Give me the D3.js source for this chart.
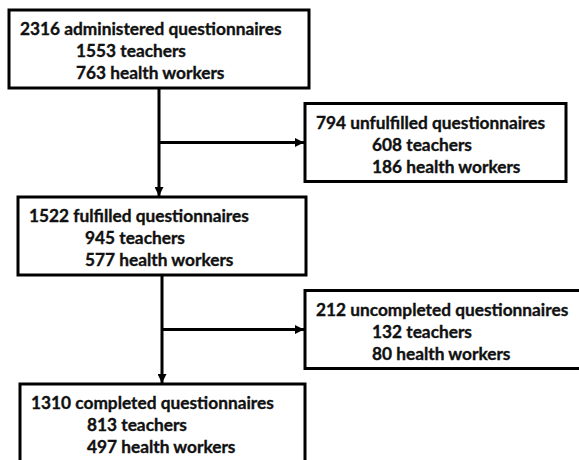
<!DOCTYPE html>
<html>
<head>
<meta charset="utf-8">
<script src="https://cdn.jsdelivr.net/npm/d3@7"></script>
<style>
    body { margin: 0; background: #fff; }
    .box { fill: #fff; stroke: #000; stroke-width: 3; }
    .link { fill: none; stroke: #000; stroke-width: 3; }
    .label { font-family: Lato, "Open Sans", sans-serif; font-weight: bold; font-size: 17.3px; fill: #111; stroke: #111; stroke-width: 0.35; }
</style>
</head>
<body>
<script>
//flowchart data
var titles = ["2316 administered questionnaires", "794 unfulfilled questionnaires",
    "1522 fulfilled questionnaires", "212 uncompleted questionnaires",
    "1310 completed questionnaires"];
var teachers = [1553, 608, 945, 132, 813];
var healthWorkers = [763, 186, 577, 80, 497];
var branch = ["main", "side", "main", "side", "main"]; //side = excluded questionnaires

window.onload = function(){
    var width = 579,
        height = 460;

    var svg = d3.select("body")
        .append("svg")
        .attr("width", width)
        .attr("height", height);

    svg.append("defs").append("marker")
        .attr("id", "arrow")
        .attr("viewBox", "0 0 10 10")
        .attr("refX", 10)
        .attr("refY", 5)
        .attr("markerUnits", "userSpaceOnUse")
        .attr("markerWidth", 9)
        .attr("markerHeight", 9)
        .attr("orient", "auto")
        .append("path")
        .attr("d", "M0,0L10,5L0,10Z")
        .attr("fill", "#000");

    //each step of the flow sits one row lower
    var y = d3.scaleLinear()
        .domain([0, 4])
        .range([10, 384]);
    var boxHeight = 78;

    //left/right edges of the boxes
    var edges = [[9, 309], [305, 566], [18, 306], [305, 584], [20, 305]];

    var nodes = titles.map(function(t, i){
        return {
            title: t,
            lines: [t, teachers[i] + " teachers", healthWorkers[i] + " health workers"],
            kind: branch[i],
            x0: edges[i][0],
            x1: edges[i][1],
            y0: y(i),
            y1: y(i) + boxHeight
        };
    });

    //connectors: from each main box down to the next main box, with a branch to the side box
    var links = [];
    nodes.forEach(function(n, i){
        if (n.kind != "main" || i + 2 >= nodes.length) return;
        var side = nodes[i + 1],
            next = nodes[i + 2],
            cx = (n.x0 + n.x1) / 2,
            cy = (side.y0 + side.y1) / 2;
        links.push([[cx, n.y1], [cx, next.y0 - 1]]);
        links.push([[cx, cy], [side.x0 - 1, cy]]);
    });

    svg.selectAll(".link")
        .data(links)
        .enter()
        .append("path")
        .attr("class", "link")
        .attr("d", d3.line())
        .attr("marker-end", "url(#arrow)");

    var box = svg.selectAll(".node")
        .data(nodes)
        .enter()
        .append("g")
        .attr("class", "node");

    box.append("rect")
        .attr("class", "box")
        .attr("x", function(d){ return d.x0; })
        .attr("y", function(d){ return d.y0; })
        .attr("width", function(d){ return d.x1 - d.x0; })
        .attr("height", boxHeight);

    box.selectAll(".label")
        .data(function(d){
            return d.lines.map(function(l, j){ return {text: l, j: j, node: d}; });
        })
        .enter()
        .append("text")
        .attr("class", "label")
        .attr("x", function(d){ return d.node.x0 + (d.j == 0 ? 11 : 67); })
        .attr("y", function(d){ return d.node.y0 + 25 + d.j * 22; })
        .text(function(d){ return d.text; });
};
</script>
</body>
</html>
